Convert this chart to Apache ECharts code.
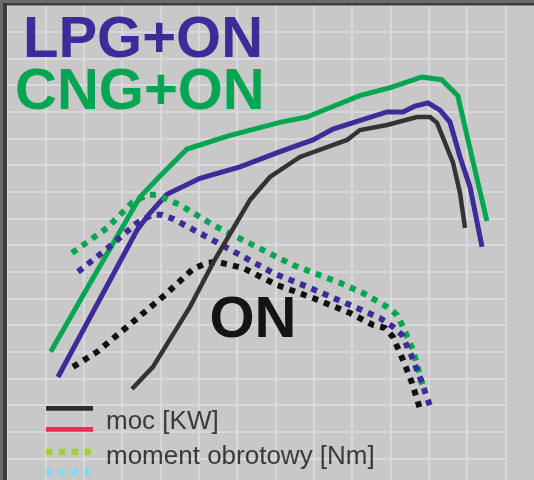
<!DOCTYPE html>
<html>
<head>
<meta charset="utf-8">
<script src="https://cdn.jsdelivr.net/npm/echarts@6/dist/echarts.min.js"></script>
<style>
html,body{margin:0;padding:0;background:#c8c8c8;}
#chart{width:534px;height:480px;}
</style>
</head>
<body>
<div id="chart"></div>
<script>
const cngPower = [[570,50],[1150,79],[1735,108],[2000,116],[2350,126],[2900,131],[3560,136],[3910,138],[4170,141],[4600,146],[5000,149],[5410,153],[5670,152],[5880,146],[6040,126],[6260,99]];
const lpgPower = [[665,40.5],[1696,95.6],[1865,102],[2087,109],[2517,115],[3039,119.3],[3561,125],[3991,129.4],[4252,133.5],[4957,139.9],[5165,139.9],[5322,142.1],[5491,143.3],[5648,140.6],[5778,136.1],[5909,123],[6039,111.8],[6196,89.3]];
const onPower = [[1630,36],[1904,44.3],[2387,66.8],[2687,83.3],[3170,106.9],[3430,115.5],[3822,123],[4435,129.4],[4604,133.1],[4957,135],[5348,138],[5517,138],[5609,135.8],[5817,121],[5909,109.5],[5974,96.4]];
const cngTorque = [[848,87],[1304,96.4],[1630,105.8],[1826,108.8],[1957,108.8],[2257,105],[2687,97.5],[3130,91.1],[3730,82.5],[4343,75.8],[4643,72],[4957,66.8],[5087,63.8],[5165,59.3],[5296,50.6],[5426,36.8]];
const lpgTorque = [[926,79.9],[1317,88.9],[1696,98.3],[1891,101.3],[2022,101.3],[2165,99.8],[2609,93],[3039,86.3],[3470,79.5],[3952,73.9],[4565,66.4],[4865,62.6],[5022,59.6],[5152,56.3],[5283,48],[5413,38.3],[5517,29.6]];
const onTorque = [[861,44.3],[1174,49.9],[1565,59.3],[2061,71.3],[2426,81],[2609,83.3],[2752,83.6],[3078,81.4],[3522,75],[3991,70.1],[4474,64.5],[4774,60],[4930,58.9],[5035,55.5],[5165,46.9],[5283,38.3],[5387,28.5]];
const titles = ['LPG+ON', 'CNG+ON', 'ON'];
const legendLabels = ['moc [KW]', 'moment obrotowy [Nm]'];

const GREEN = '#02a652', PURPLE = '#3c2b98', DARK = '#363234', BLACK = '#111111';

const chart = echarts.init(document.getElementById('chart'), null, {renderer: 'canvas'});
function solid(data, color, w, z) {
  return {type: 'line', data: data, symbol: 'none', smooth: false, z: z,
    lineStyle: {color: color, width: w, cap: 'butt', join: 'miter'}, animation: false};
}
function dotted(data, color, z) {
  return {type: 'line', data: data, symbol: 'none', smooth: false, z: z,
    lineStyle: {color: color, width: 6, type: [6, 6.3], cap: 'butt', join: 'miter'}, animation: false};
}
const splitStyle = {show: true, lineStyle: {color: '#d8d9dc', width: 2}};
chart.setOption({
  backgroundColor: '#c8c8c8',
  animation: false,
  grid: {left: 7, top: 5, width: 498.33, height: 480, outerBoundsMode: 'none', containLabel: false},
  xAxis: {type: 'value', min: 0, max: 6500, interval: 500,
    axisLine: {show: false}, axisTick: {show: false}, axisLabel: {show: false}, splitLine: splitStyle},
  yAxis: {type: 'value', min: 0, max: 180, interval: 10,
    axisLine: {show: false}, axisTick: {show: false}, axisLabel: {show: false}, splitLine: splitStyle},
  series: [
    solid(cngPower, GREEN, 5, 3),
    solid(lpgPower, PURPLE, 5, 3),
    dotted(cngTorque, GREEN, 4),
    dotted(lpgTorque, PURPLE, 4),
    dotted(onTorque, BLACK, 4),
    solid(onPower, DARK, 4.5, 5)
  ],
  graphic: [
    {type: 'rect', shape: {x: 0, y: 0, width: 3, height: 480}, style: {fill: '#6b6b6b'}, z: 100},
    {type: 'rect', shape: {x: 0, y: 0, width: 534, height: 3}, style: {fill: '#6b6b6b'}, z: 100},
    {type: 'rect', shape: {x: 3, y: 3, width: 4, height: 477}, style: {fill: '#3d3d3d'}, z: 100},
    {type: 'rect', shape: {x: 3, y: 3, width: 531, height: 2.5}, style: {fill: '#3d3d3d'}, z: 100},
    {type: 'text', x: 23, y: 12, style: {text: titles[0], fill: PURPLE, font: 'bold 58px "Liberation Sans", Arial, sans-serif', verticalAlign: 'top'}, z: 50},
    {type: 'text', x: 15, y: 64, style: {text: titles[1], fill: GREEN, font: 'bold 58px "Liberation Sans", Arial, sans-serif', verticalAlign: 'top'}, z: 50},
    {type: 'text', x: 209.5, y: 292, style: {text: titles[2], fill: '#141414', font: 'bold 58px "Liberation Sans", Arial, sans-serif', verticalAlign: 'top'}, z: 50},
    {type: 'line', shape: {x1: 46, y1: 408.3, x2: 93, y2: 408.3}, style: {stroke: '#2f2c2e', lineWidth: 4.7}, z: 50},
    {type: 'line', shape: {x1: 46, y1: 429.3, x2: 93, y2: 429.3}, style: {stroke: '#ee2a55', lineWidth: 4.7}, z: 50},
    {type: 'line', shape: {x1: 46, y1: 451.7, x2: 92, y2: 451.7}, style: {stroke: '#a5cf3a', lineWidth: 6.5, lineDash: [6.5, 6.3]}, z: 50},
    {type: 'line', shape: {x1: 46, y1: 472.3, x2: 92, y2: 472.3}, style: {stroke: '#88d4f2', lineWidth: 6.5, lineDash: [6.5, 6.3]}, z: 50},
    {type: 'text', x: 106, y: 435, style: {text: legendLabels[0], fill: '#3a3a3a', font: '26px "Liberation Sans", Arial, sans-serif', verticalAlign: 'bottom'}, z: 50},
    {type: 'text', x: 106, y: 470, style: {text: legendLabels[1], fill: '#3a3a3a', font: '26px "Liberation Sans", Arial, sans-serif', verticalAlign: 'bottom'}, z: 50}
  ]
});
</script>
</body>
</html>
